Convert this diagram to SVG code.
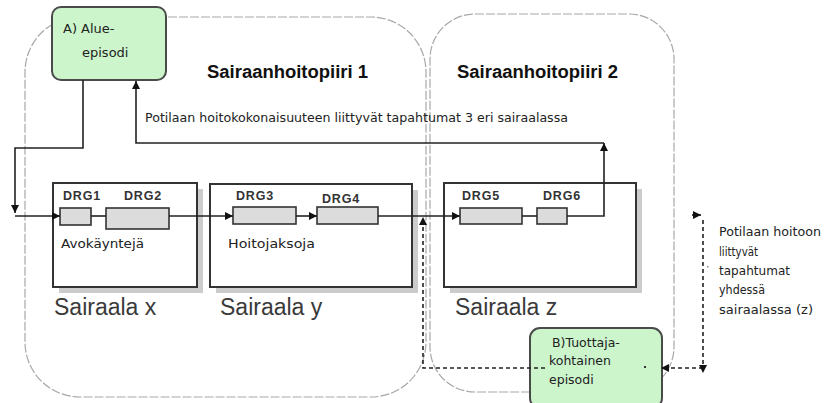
<svg xmlns="http://www.w3.org/2000/svg" width="834" height="403" viewBox="0 0 834 403">
<style>
.region{fill:none;stroke:#a8a8a8;stroke-width:1.2;stroke-dasharray:9 2}
.ep{fill:#ccf5cc;stroke:#4a4a4a;stroke-width:2}
.hosp{fill:#fff;stroke:#333;stroke-width:2}
.shadow{fill:#cccccc}
.drg{fill:#dcdcdc;stroke:#333;stroke-width:1.6}
.line{fill:none;stroke:#222;stroke-width:1.6}
.dash{fill:none;stroke:#222;stroke-width:1.6;stroke-dasharray:4 3}
.t{font-family:"DejaVu Sans",sans-serif;fill:#222}
.title{font-family:"Liberation Sans",Arial,sans-serif;font-weight:bold;font-size:18px;fill:#111}
.drgt{font-family:"Liberation Sans",Arial,sans-serif;font-weight:bold;font-size:12.5px;letter-spacing:0.8px;fill:#333}
.hname{font-family:"Liberation Sans",Arial,sans-serif;font-size:23px;fill:#3a3a3a}
</style>
<defs>
<marker id="ah" viewBox="0 0 10 10" refX="10" refY="5" markerWidth="9" markerHeight="8" markerUnits="userSpaceOnUse" orient="auto">
<path d="M0 0 L10 5 L0 10 Z" fill="#111"/>
</marker>
</defs>

<g id="region1">
<rect class="region" x="25" y="17" width="401" height="380" rx="55"/>
<text class="title" x="207" y="78" textLength="161" lengthAdjust="spacingAndGlyphs">Sairaanhoitopiiri 1</text>
</g>
<g id="region2">
<rect class="region" x="430" y="14" width="244" height="378" rx="45"/>
<text class="title" x="457" y="78" textLength="161" lengthAdjust="spacingAndGlyphs">Sairaanhoitopiiri 2</text>
</g>

<g id="hospital-x">
<rect class="shadow" x="59" y="189" width="144" height="104"/>
<rect class="hosp" x="53" y="183" width="144" height="104"/>
<text class="t" x="61" y="248" font-size="12" textLength="83" lengthAdjust="spacingAndGlyphs">Avokäyntejä</text>
<text class="hname" x="54" y="315">Sairaala x</text>
</g>
<g id="hospital-y">
<rect class="shadow" x="216" y="190" width="202" height="103"/>
<rect class="hosp" x="210" y="184" width="202" height="103"/>
<text class="t" x="228" y="248" font-size="12" textLength="87" lengthAdjust="spacingAndGlyphs">Hoitojaksoja</text>
<text class="hname" x="220" y="315">Sairaala y</text>
</g>
<g id="hospital-z">
<rect class="shadow" x="450" y="189" width="192" height="104"/>
<rect class="hosp" x="444" y="183" width="192" height="104"/>
<text class="hname" x="455" y="315">Sairaala z</text>
</g>

<g id="drg1"><rect class="drg" x="60" y="208" width="31" height="17"/><text class="drgt" x="63" y="200">DRG1</text></g>
<g id="drg2"><rect class="drg" x="106" y="208" width="63" height="21"/><text class="drgt" x="124" y="200">DRG2</text></g>
<g id="drg3"><rect class="drg" x="233" y="207" width="63" height="17"/><text class="drgt" x="236" y="200">DRG3</text></g>
<g id="drg4"><rect class="drg" x="317" y="207" width="61" height="17"/><text class="drgt" x="322" y="203">DRG4</text></g>
<g id="drg5"><rect class="drg" x="460" y="208" width="62" height="16"/><text class="drgt" x="462" y="200">DRG5</text></g>
<g id="drg6"><rect class="drg" x="537" y="208" width="30" height="16"/><text class="drgt" x="543" y="200">DRG6</text></g>

<g id="episode-a">
<rect class="ep" x="52" y="7" width="114" height="73" rx="9"/>
<text class="t" x="63" y="33" font-size="13">A) Alue-</text>
<text class="t" x="82" y="57" font-size="13">episodi</text>
</g>

<g id="episode-b">
<rect class="ep" x="530" y="328" width="132" height="80" rx="10"/>
<text class="t" x="552" y="347" font-size="12.5">B)Tuottaja-</text>
<text class="t" x="549" y="365" font-size="12.5">kohtainen</text>
<text class="t" x="549" y="384" font-size="12.5">episodi</text>
<rect x="644" y="366" width="2" height="2" fill="#333"/>
</g>

<g id="label-total">
<text class="t" x="145" y="122" font-size="12" textLength="423" lengthAdjust="spacingAndGlyphs">Potilaan hoitokokonaisuuteen liittyvät tapahtumat 3 eri sairaalassa</text>
</g>
<g id="label-single">
<text class="t" x="719" y="236" font-size="12" textLength="102" lengthAdjust="spacingAndGlyphs">Potilaan hoitoon</text>
<text class="t" x="719" y="256" font-size="12" textLength="39" lengthAdjust="spacingAndGlyphs">liittyvät</text>
<text class="t" x="719" y="275" font-size="12" textLength="71" lengthAdjust="spacingAndGlyphs">tapahtumat</text>
<text class="t" x="719" y="294" font-size="12" textLength="46" lengthAdjust="spacingAndGlyphs">yhdessä</text>
<text class="t" x="719" y="314" font-size="12" textLength="94" lengthAdjust="spacingAndGlyphs">sairaalassa (z)</text>
</g>

<g id="connectors">
<path class="line" d="M83 80 V148 H15 V213" marker-end="url(#ah)"/>
<path class="line" d="M15 216 H60" marker-end="url(#ah)"/>
<path class="line" d="M91 216 H106"/>
<path class="line" d="M169 216 H233" marker-end="url(#ah)"/>
<path class="line" d="M296 216 H317" marker-end="url(#ah)"/>
<path class="line" d="M378 216 H460" marker-end="url(#ah)"/>
<path class="line" d="M522 216 H537"/>
<path class="line" d="M567 216 H604 V143" marker-end="url(#ah)"/>
<path class="line" d="M604 143 H136 V81" marker-end="url(#ah)"/>
<path class="dash" d="M545 368 H423 V217" marker-end="url(#ah)"/>
<path class="dash" d="M703 368 H661" marker-end="url(#ah)"/>
<path class="dash" d="M703 220 V373" marker-end="url(#ah)"/>
<path class="line" d="M692 215 H701" marker-end="url(#ah)"/>
<rect x="707" y="266" width="1.5" height="1.5" fill="#888"/>
</g>
</svg>
